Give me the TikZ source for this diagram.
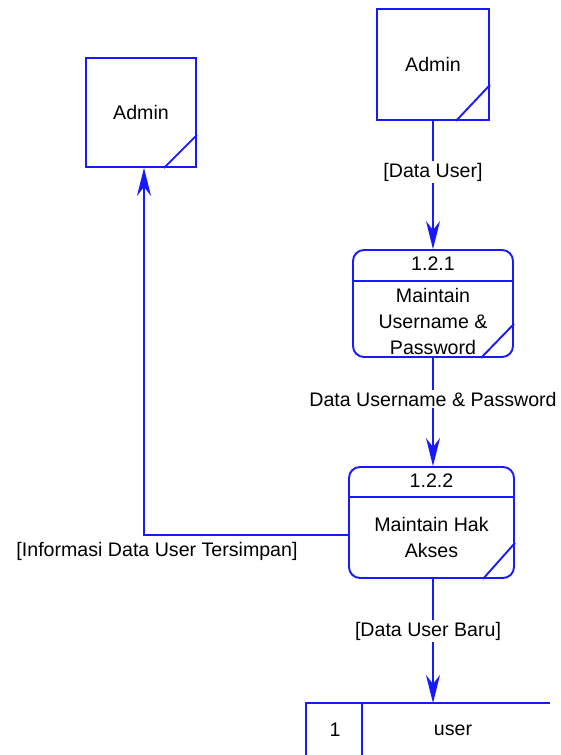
\documentclass[tikz,border=0pt]{standalone}
\usepackage{fontspec}
\setmainfont{Liberation Sans}
\usetikzlibrary{positioning, arrows.meta, calc}
\definecolor{dfdblue}{RGB}{25,25,255}

\begin{document}
\begin{tikzpicture}[
    x=1pt, y=-1pt,          % 画像のピクセル座標をそのまま使う
    line width=1.9pt,       % 線は太め
    >={Stealth[length=28pt, width=14pt, inset=9pt]},
    font=\fontsize{19.6}{26}\selectfont,
    entity/.style={draw=dfdblue, minimum width=112pt, minimum height=111pt, inner sep=0pt},
    proc/.style={draw=dfdblue, rounded corners=11pt, inner sep=0pt},
    flow/.style={->, draw=dfdblue},
    lbl/.style={fill=white, inner sep=2pt}
]
    \useasboundingbox (0,0) rectangle (560,755);

    % --- 1. 外部エンティティ（Admin） ---
    \node [entity] (admTop) at (433, 64.5) {Admin};
    \draw [dfdblue] ($(admTop.south east)+(-34pt,0pt)$) -- ($(admTop.south east)+(0pt,36pt)$);

    \node [entity, minimum width=110pt, minimum height=109pt] (admLeft) at (141, 112.5) {Admin};
    \draw [dfdblue] ($(admLeft.south east)+(-33pt,0pt)$) -- ($(admLeft.south east)+(0pt,33pt)$);

    % --- 2. プロセス 1.2.1 ---
    \node [proc, minimum width=160pt, minimum height=107pt] (p1) at (433, 303.5) {};
    \node [below=3pt of p1.north] (p1num) {1.2.1};
    \draw [dfdblue] ($(p1.north west)+(0pt,-32pt)$) -- ($(p1.north east)+(0pt,-32pt)$);
    \node [align=center] (p1txt) at (433, 321) {Maintain\\Username \&\\Password};
    \draw [dfdblue] ($(p1.south east)+(-33pt,0pt)$) -- ($(p1.south east)+(0pt,34pt)$);

    % --- 3. プロセス 1.2.2 ---
    \node [proc, minimum width=165pt, minimum height=111pt] (p2) at (431.5, 522.5) {};
    \node [below=3pt of p2.north] (p2num) {1.2.2};
    \draw [dfdblue] ($(p2.north west)+(0pt,-31pt)$) -- ($(p2.north east)+(0pt,-31pt)$);
    \node [align=center] (p2txt) at (431.5, 537) {Maintain Hak\\Akses};
    \draw [dfdblue] ($(p2.south east)+(-32pt,0pt)$) -- ($(p2.south east)+(0pt,36pt)$);

    % --- 4. データストア（user） ---
    \draw [dfdblue] (550, 703) -- (306, 703) -- (306, 755);
    \draw [dfdblue] (362, 703) -- (362, 755);
    \coordinate (ds) at (433, 703);
    \node (dsid) at (335, 730) {1};
    \node (dsname) at (453, 730) {user};

    % --- 5. データフロー ---
    \draw [flow] (admTop) -- node [lbl, pos=0.4] (fUser) {[Data User]} (p1);
    \draw [flow] (p1.south) -- node [lbl, pos=0.38] (fPass) {Data Username \& Password} (p1.south |- p2.north);
    \draw [flow] (ds |- p2.south) -- node [lbl, pos=0.42, xshift=-5pt] (fBaru) {[Data User Baru]} (ds);
    \draw [flow] (p2.west |- 0,535) -- (144,535) -- (144,0 |- admLeft.south);
    \node (fInfo) at (157, 551) {[Informasi Data User Tersimpan]};

\end{tikzpicture}
\end{document}
